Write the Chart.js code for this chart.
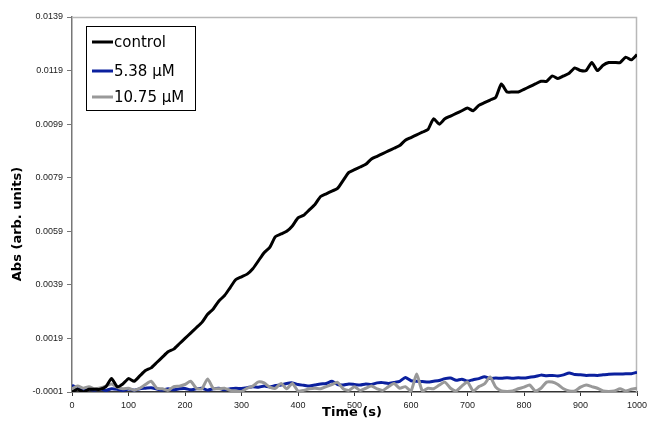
<!DOCTYPE html>
<html>
<head>
<meta charset="utf-8">
<script src="https://cdn.jsdelivr.net/npm/chart.js@4/dist/chart.umd.min.js"></script>
<style>
  html, body { margin: 0; padding: 0; background: #fff; }
  #wrap { width: 648px; height: 437px; }
</style>
</head>
<body>
<div id="wrap"><canvas id="abs_chart" width="648" height="437"></canvas></div>
<script>
// time axis (s)
var times = [0,10,20,30,40,50,60,70,80,90,100,110,120,130,140,150,160,170,180,190,
  200,210,220,230,240,250,260,270,280,290,300,310,320,330,340,350,360,370,380,390,
  400,410,420,430,440,450,460,470,480,490,500,510,520,530,540,550,560,570,580,590,
  600,610,620,630,640,650,660,670,680,690,700,710,720,730,740,750,760,770,780,790,
  800,810,820,830,840,850,860,870,880,890,900,910,920,930,940,950,960,970,980,990,1000];

var control = [-0.0001,0.0000,-0.0001,0.0000,0.0000,0.0000,0.0001,0.0004,0.0001,0.0002,
  0.0004,0.0003,0.0005,0.0007,0.0008,0.0010,0.0012,0.0014,0.0015,0.0017,
  0.0019,0.0021,0.0023,0.0025,0.0028,0.0030,0.0033,0.0035,0.0038,0.0041,
  0.0042,0.0043,0.0045,0.0048,0.0051,0.0053,0.0057,0.0058,0.0059,0.0061,
  0.0064,0.0065,0.0067,0.0069,0.0072,0.0073,0.0074,0.0075,0.0078,0.0081,
  0.0082,0.0083,0.0084,0.0086,0.0087,0.0088,0.0089,0.0090,0.0091,0.0093,
  0.0094,0.0095,0.0096,0.0097,0.0101,0.0099,0.0101,0.0102,0.0103,0.0104,
  0.0105,0.0104,0.0106,0.0107,0.0108,0.0109,0.0114,0.0111,0.0111,0.0111,
  0.0112,0.0113,0.0114,0.0115,0.0115,0.0117,0.0116,0.0117,0.0118,0.0120,
  0.0119,0.0119,0.0122,0.0119,0.0121,0.0122,0.0122,0.0122,0.0124,0.0123,0.0125];

var conc538 = [0.00015,0.00005,-0.00005,0.00000,-0.00003,0.00002,-0.00004,0.00002,0.00000,-0.00004,
  0.00001,-0.00003,0.00002,0.00004,0.00006,0.00001,-0.00003,0.00002,-0.00002,0.00002,
  0.00003,-0.00002,0.00002,0.00004,-0.00003,0.00002,0.00004,-0.00002,0.00002,0.00004,
  0.00003,0.00006,0.00010,0.00008,0.00012,0.00009,0.00014,0.00016,0.00022,0.00024,
  0.00018,0.00015,0.00012,0.00016,0.00020,0.00022,0.00030,0.00018,0.00016,0.00020,
  0.00018,0.00016,0.00020,0.00018,0.00024,0.00025,0.00022,0.00026,0.00030,0.00044,
  0.00032,0.00030,0.00029,0.00027,0.00030,0.00033,0.00040,0.00042,0.00034,0.00038,
  0.00031,0.00036,0.00040,0.00047,0.00040,0.00042,0.00041,0.00043,0.00041,0.00043,
  0.00042,0.00045,0.00048,0.00053,0.00051,0.00052,0.00050,0.00054,0.00061,0.00055,
  0.00054,0.00052,0.00053,0.00052,0.00054,0.00056,0.00057,0.00057,0.00058,0.00058,0.00064];

var conc1075 = [0.00002,0.00012,0.00004,0.00010,0.00002,0.00005,0.00012,0.00020,0.00008,0.00002,
  0.00004,-0.00003,0.00004,0.00018,0.00030,0.00004,0.00002,-0.00004,0.00010,0.00012,
  0.00018,0.00030,0.00004,0.00002,0.00039,0.00004,0.00002,0.00004,-0.00004,-0.00006,
  -0.00008,0.00004,0.00012,0.00028,0.00024,0.00008,0.00004,0.00022,0.00002,0.00022,
  -0.00006,-0.00004,0.00002,0.00004,0.00002,0.00010,0.00018,0.00026,0.00002,-0.00004,
  0.00010,-0.00004,0.00004,0.00012,0.00002,-0.00004,0.00010,0.00022,0.00004,0.00010,
  -0.00006,0.00057,-0.00006,0.00004,0.00002,0.00016,0.00027,0.00004,-0.00006,0.00012,
  0.00027,-0.00006,0.00010,0.00020,0.00046,0.00008,-0.00006,-0.00008,-0.00006,0.00002,
  0.00008,0.00016,-0.00006,0.00004,0.00027,0.00027,0.00018,0.00002,-0.00006,-0.00006,
  0.00008,0.00016,0.00010,0.00004,-0.00006,-0.00008,-0.00006,0.00002,-0.00006,0.00000,0.00004];

var yTicks = [-0.0001, 0.0019, 0.0039, 0.0059, 0.0079, 0.0099, 0.0119, 0.0139];
var xTicks = [0, 100, 200, 300, 400, 500, 600, 700, 800, 900, 1000];

function pts(vals) {
  return times.map(function (t, i) { return { x: t, y: vals[i] }; });
}

// frame, legend box and axis titles
var extras = {
  id: 'extras',
  beforeDatasetsDraw: function (chart) {
    var a = chart.chartArea, c = chart.ctx;
    c.save();
    c.strokeStyle = '#b8b8b8';
    c.lineWidth = 1.5;
    c.beginPath();
    c.moveTo(a.left, a.top + 0.5);
    c.lineTo(a.right - 0.5, a.top + 0.5);
    c.lineTo(a.right - 0.5, a.bottom);
    c.stroke();
    c.restore();
  },
  afterDraw: function (chart) {
    var c = chart.ctx;
    c.save();
    // legend
    c.fillStyle = '#fff';
    c.fillRect(86.5, 26.5, 109, 84);
    c.strokeStyle = '#000';
    c.lineWidth = 1;
    c.strokeRect(86.5, 26.5, 109, 84);
    var rows = [42, 71, 97];
    chart.data.datasets.forEach(function (ds, i) {
      c.strokeStyle = ds.borderColor;
      c.lineWidth = 3;
      c.beginPath();
      c.moveTo(92, rows[i]);
      c.lineTo(113, rows[i]);
      c.stroke();
      c.fillStyle = '#000';
      c.font = '15px "DejaVu Sans"';
      c.textBaseline = 'middle';
      c.textAlign = 'left';
      c.fillText(ds.label, 114, rows[i] + 1);
    });
    // axis titles
    c.fillStyle = '#000';
    c.font = 'bold 13px "DejaVu Sans"';
    c.textAlign = 'center';
    c.textBaseline = 'middle';
    c.fillText('Time (s)', 352, 413);
    c.translate(18, 224);
    c.rotate(-Math.PI / 2);
    c.fillText('Abs (arb. units)', 0, 0);
    c.restore();
  }
};

var ctx = document.getElementById('abs_chart').getContext('2d');
var myChart = new Chart(ctx, {
  type: 'line',
  data: {
    datasets: [{
      label: 'control',
      data: pts(control),
      borderColor: '#000000',
      order: 0,
    }, {
      label: '5.38 μM',
      data: pts(conc538),
      borderColor: '#0b209e',
      order: 2,
    }, {
      label: '10.75 μM',
      data: pts(conc1075),
      borderColor: '#999999',
      order: 1,
    }],
  },
  options: {
    responsive: false,
    animation: false,
    layout: { padding: { left: 0, right: 11, top: 17, bottom: 0 } },
    elements: {
      point: { radius: 0 },
      line: { borderWidth: 3, tension: 0.2 },
    },
    plugins: {
      legend: { display: false },
      tooltip: { enabled: false },
    },
    scales: {
      x: {
        type: 'linear',
        min: 0,
        max: 1000,
        afterFit: function (s) { s.height = 45; s.paddingLeft = 0; s.paddingRight = 0; },
        afterBuildTicks: function (s) { s.ticks = xTicks.map(function (v) { return { value: v }; }); },
        grid: { drawOnChartArea: false, tickLength: 4, color: '#333' },
        border: { color: '#333', width: 1.5 },
        ticks: {
          color: '#222',
          font: { family: 'Liberation Sans', size: 9 },
          padding: 4,
          maxRotation: 0,
          callback: function (v) { return String(v); },
        },
      },
      y: {
        min: -0.0001,
        max: 0.0139,
        afterFit: function (s) { s.width = 72; s.paddingTop = 0; s.paddingBottom = 0; },
        afterBuildTicks: function (s) { s.ticks = yTicks.map(function (v) { return { value: v }; }); },
        grid: { drawOnChartArea: false, tickLength: 5, color: '#777' },
        border: { color: '#777', width: 1.5 },
        ticks: {
          color: '#222',
          font: { family: 'Liberation Sans', size: 9 },
          padding: 4,
          callback: function (v) { return v.toFixed(4); },
        },
      },
    },
  },
  plugins: [extras],
});
</script>
</body>
</html>
